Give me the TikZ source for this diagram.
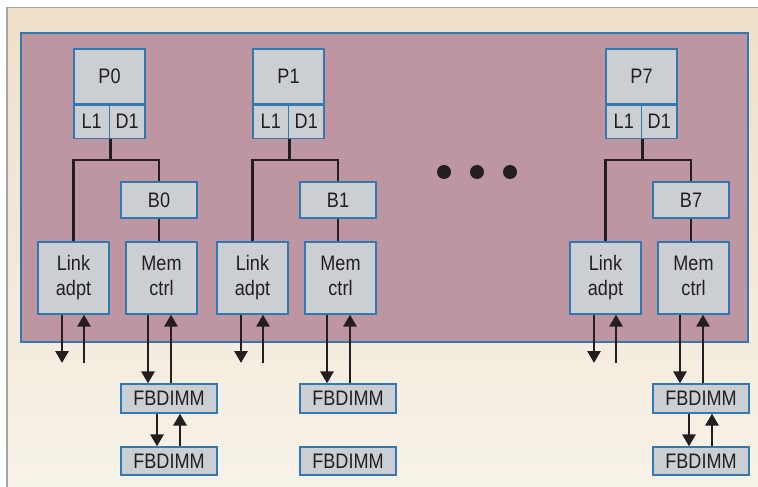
\documentclass[tikz,border=0pt]{standalone}
\usepackage{fontspec}
\setmainfont{Liberation Sans}[FakeStretch=0.86]
\usetikzlibrary{arrows.meta,positioning}

\definecolor{boxfill}{RGB}{203,206,210}
\definecolor{boxline}{RGB}{52,120,176}
\definecolor{chipfill}{RGB}{190,150,162}
\definecolor{bgtop}{RGB}{237,224,200}
\definecolor{bgbot}{RGB}{247,242,232}
\definecolor{ink}{RGB}{35,31,32}

\tikzset{
  unit/.style={draw=boxline,fill=boxfill,line width=1.2bp,inner sep=0pt,
    align=center,font=\fontsize{21bp}{25bp}\selectfont,text=ink},
  wire/.style={draw=ink,line width=2.8bp},
  bus/.style={wire,-{Triangle[width=13bp,length=12bp]}}
}

\begin{document}
\begin{tikzpicture}[x=1bp,y=-1bp]
  \useasboundingbox (0,0) rectangle (758,487);
  % background and chip
  \shade[top color=bgtop,bottom color=bgbot] (7,8) rectangle (758,487);
  \draw[gray!70,line width=1.2bp] (7,487)--(7,7.5)--(758,7.5);
  \draw[draw=boxline,fill=chipfill,line width=1.2bp] (21,33) rectangle (748,342);

  \foreach \dx/\n in {0/0,179/1,532/7} {
    \node[unit,minimum width=71bp,minimum height=55bp] (p\n) at (109.5+\dx,76.5) {P\n};
    \node[unit,minimum width=35.5bp,minimum height=33bp,anchor=north west] (l\n) at (p\n.south west) {L1};
    \node[unit,minimum width=35.5bp,minimum height=33bp,anchor=north east] (d\n) at (p\n.south east) {D1};
    \node[unit,minimum width=76bp,minimum height=36bp] (b\n) at (159+\dx,200) {B\n};
    \node[unit,minimum width=71bp,minimum height=72bp] (link\n) at (73.5+\dx,278) {\strut Link\\\strut adpt};
    \node[unit,minimum width=71bp,minimum height=72bp] (mem\n) at (161.5+\dx,278) {\strut Mem\\\strut ctrl};
    \node[unit,minimum width=96bp,minimum height=29bp] (fbA\n) at (169+\dx,398.5) {FBDIMM};
    \node[unit,minimum width=96bp,minimum height=28bp] (fbB\n) at (169+\dx,461) {FBDIMM};
    \coordinate (split\n) at (l\n.south east |- 0,160);
    \coordinate (out\n) at (link\n.south |- 0,363);
    \draw[wire] (l\n.south east)--(split\n);
    \draw[wire] (link\n.north)--(link\n.north |- split\n)--(b\n.north |- split\n)--(b\n.north);
    \draw[wire] (b\n.south)--(b\n.south |- mem\n.north);
    \draw[bus] ([xshift=-11.5bp]link\n.south)--([xshift=-11.5bp]out\n);
    \draw[bus] ([xshift=10.5bp]out\n)--([xshift=10.5bp]link\n.south);
    \draw[bus] ([xshift=-13.5bp]mem\n.south)--([xshift=-13.5bp]mem\n.south |- fbA\n.north);
    \draw[bus] ([xshift=9.5bp]mem\n.south |- fbA\n.north)--([xshift=9.5bp]mem\n.south);
  }
  \foreach \n in {0,7} {
    \draw[bus] ([xshift=-12bp]fbA\n.south)--([xshift=-12bp]fbB\n.north);
    \draw[bus] ([xshift=11bp]fbB\n.north)--([xshift=11bp]fbA\n.south);
  }
  % ellipsis between P1 and P7
  \foreach \x in {444,477,510} {\fill[ink] (\x,172) circle (7);}
\end{tikzpicture}
\end{document}
